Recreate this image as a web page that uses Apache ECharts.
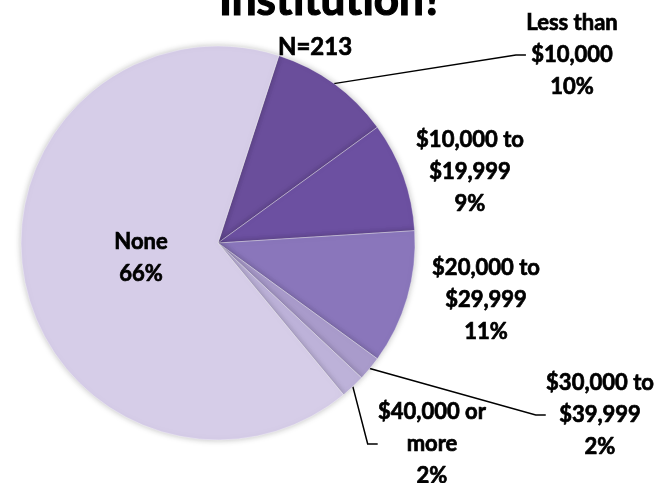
<!DOCTYPE html>
<html>
<head>
<meta charset="utf-8">
<script src="https://cdn.jsdelivr.net/npm/echarts@6/dist/echarts.min.js"></script>
<style>
  html, body { margin: 0; padding: 0; background: #fff; }
  #chart { width: 662px; height: 483px; }
</style>
</head>
<body>
<div id="chart"></div>
<script>
const categories = ['Less than\n$10,000', '$10,000 to\n$19,999', '$20,000 to\n$29,999', '$30,000 to\n$39,999', '$40,000 or\nmore', 'None'];
const percents = [10, 9, 11, 2, 2, 66];
const sliceColors = ['#6a4e9b', '#6c50a1', '#8a76bb', '#a99bcb', '#bdb2d9', '#d6cde8'];

// where each label block sits (centre of the text)
const labelPos = [
  [572, 55],
  [470, 172],
  [486, 300],
  [600, 415],
  [432, 444],
  [141, 258]
];

const chart = echarts.init(document.getElementById('chart'));

// bold text a bit heavier, closer to the original font
const heavy = { textBorderColor: '#000', textBorderWidth: 0.7 };

const option = {
  backgroundColor: '#fff',
  title: [
    {
      text: 'Institution?',
      left: 'center',
      top: -26,
      textStyle: Object.assign({ fontFamily: 'Lato', fontWeight: 'bold', fontSize: 44, color: '#000' }, heavy, { textBorderWidth: 1.2 })
    },
    {
      text: 'N=213',
      left: 310,
      textAlign: 'center',
      top: 30,
      textStyle: Object.assign({ fontFamily: 'Lato', fontWeight: 'bold', fontSize: 24, color: '#000' }, heavy)
    }
  ],
  series: [{
    type: 'pie',
    center: [218, 243],
    radius: 197,
    startAngle: 72,
    clockwise: true,
    avoidLabelOverlap: false,
    itemStyle: {
      borderColor: 'rgba(255,255,255,0.35)',
      borderWidth: 1,
      shadowBlur: 6,
      shadowColor: 'rgba(0,0,0,0.25)'
    },
    label: Object.assign({
      show: true,
      position: 'outside',
      fontFamily: 'Lato',
      fontWeight: 'bold',
      fontSize: 22,
      lineHeight: 32,
      color: '#000',
      align: 'center',
      formatter: p => p.name + '\n' + p.value + '%'
    }, heavy),
    labelLine: {
      show: true,
      length: 20,
      length2: 10,
      smooth: false,
      lineStyle: { color: '#000', width: 1.5 }
    },
    labelLayout: params => {
      const p = labelPos[params.dataIndex];
      return { x: p[0], y: p[1], align: 'center', verticalAlign: 'middle' };
    },
    data: categories.map((c, i) => ({
      name: c,
      value: percents[i],
      itemStyle: { color: sliceColors[i] },
      labelLine: { show: i === 0 || i === 3 || i === 4 },
      label: i === 5 ? { position: 'inside' } : undefined
    })),
    emphasis: { disabled: true }
  }]
};

chart.setOption(option);
</script>
</body>
</html>
